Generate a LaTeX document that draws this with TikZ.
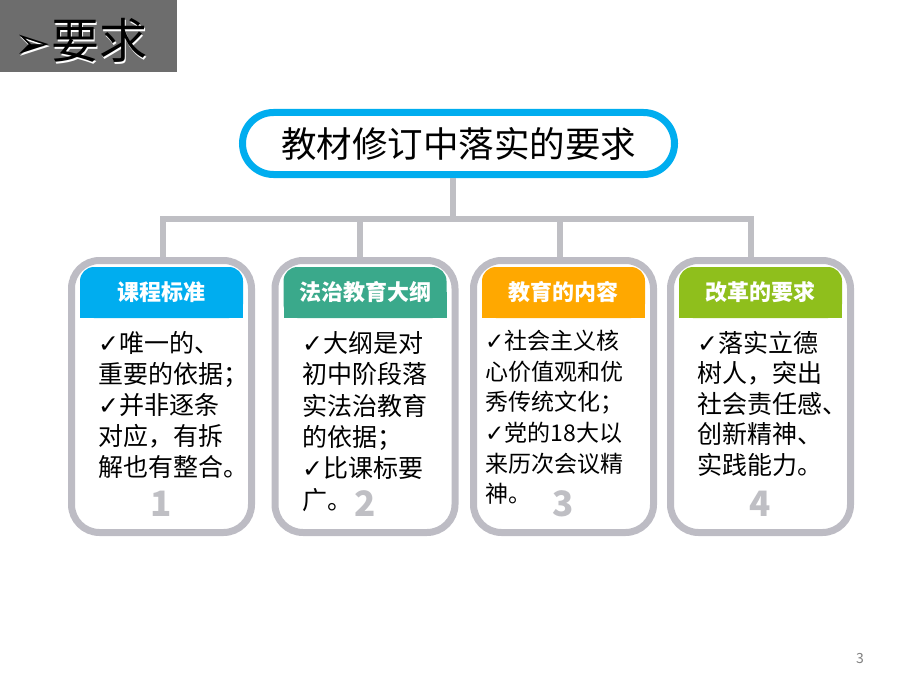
\documentclass[tikz,border=0pt]{standalone}
\usepackage{fontspec}
\setmainfont{Noto Sans CJK SC}
\newfontfamily\symfont{DejaVu Sans}
\definecolor{titlegray}{HTML}{6D6D6D}
\definecolor{topcyan}{HTML}{00ADEF}
\definecolor{cardgray}{HTML}{BDBCC4}
\definecolor{linkgray}{HTML}{BFBFC4}
\definecolor{headcyan}{HTML}{00ADEF}
\definecolor{headteal}{HTML}{3AA98B}
\definecolor{headorange}{HTML}{FFA800}
\definecolor{headgreen}{HTML}{8FBF1C}
\newcommand{\ck}{{\symfont\bfseries ✓}}

\begin{document}
\begin{tikzpicture}[x=1pt, y=-1pt,
  card/.style={draw=cardgray, line width=7pt, fill=white, rounded corners=28pt,
    minimum width=180pt, minimum height=272pt},
  head/.style={fill=#1, rounded corners=14pt, minimum width=163pt, minimum height=51pt,
    inner sep=0pt, text=white, font=\bfseries\fontsize{22}{22}\selectfont},
  body/.style={anchor=north west, inner sep=0pt, align=left, font=\fontsize{25}{31}\selectfont},
  num/.style={text=linkgray, font=\bfseries\fontsize{35}{35}\selectfont},
  link/.style={draw=linkgray, line width=5.5pt}]
  \useasboundingbox (0,0) rectangle (920,690);

  % title bar
  \node[fill=titlegray, anchor=north west, inner sep=0pt, minimum width=177pt, minimum height=72pt] (banner) at (0,0) {};
  \node[anchor=west, inner sep=0pt, text=white, font=\fontsize{48}{48}\selectfont] at (15.5,42) {{\symfont\fontsize{44}{44}\selectfont ➢}要求};
  \node[anchor=west, inner sep=0pt, font=\fontsize{48}{48}\selectfont] (title) at (14,40.5) {{\symfont\fontsize{44}{44}\selectfont ➢}要求};

  \node[draw=topcyan, line width=7pt, fill=white, rounded corners=31pt, minimum width=432pt, minimum height=62pt,
    font=\fontsize{35.5}{35.5}\selectfont] (goal) at (458.5,143.5) {教材修订中落实的要求};

  % connectors
  \coordinate (bar) at (453,219);
  \coordinate (j1) at (163,219);
  \coordinate (j2) at (360,219);
  \coordinate (j3) at (560,219);
  \coordinate (j4) at (751,219);
  \draw[link] (goal.south -| bar) -- (bar);
  \draw[link] (j1 |- 0,270) -- (j1) -- (j4) -- (j4 |- 0,270);
  \draw[link] (j2) -- (j2 |- 0,270);
  \draw[link] (j3) -- (j3 |- 0,270);

  \node[card] (c1) at (161.5,396.5) {};
  \node[card] (c2) at (365,396.5) {};
  \node[card] (c3) at (563.5,396.5) {};
  \node[card] (c4) at (760.5,396.5) {};

  % headers
  \fill[headcyan] (80,292) rectangle (243,318);
  \node[head=headcyan] (h1) at (161.5,292.5) {课程标准};
  \fill[headteal] (283.5,292) rectangle (446.5,318);
  \node[head=headteal] (h2) at (365,292.5) {法治教育大纲};
  \fill[headorange] (482,292) rectangle (645,318);
  \node[head=headorange] (h3) at (563.5,292.5) {教育的内容};
  \fill[headgreen] (679,292) rectangle (842,318);
  \node[head=headgreen] (h4) at (760.5,292.5) {改革的要求};

  \node[body] (t1) at (98,331) {\ck 唯一的、\\重要的依据；\\\ck 并非逐条\\对应，有拆\\解也有整合。};
  \node[body, font=\fontsize{25}{31.4}\selectfont] (t2) at (302,331) {\ck 大纲是对\\初中阶段落\\实法治教育\\的依据；\\\ck 比课标要\\广。};
  \node[body, font=\fontsize{23}{30.6}\selectfont] (t3) at (485,330) {\ck 社会主义核\\心价值观和优\\秀传统文化；\\\ck 党的18大以\\来历次会议精\\神。};
  \node[body, font=\fontsize{25}{30.5}\selectfont] (t4) at (697,331) {\ck 落实立德\\树人，突出\\社会责任感、\\创新精神、\\实践能力。};

  \node[num] (n1) at (161.5,504) {1};
  \node[num] (n2) at (365,504) {2};
  \node[num] (n3) at (563.5,504) {3};
  \node[num] (n4) at (760.5,504) {4};

  \node[text=gray, font=\fontsize{14}{14}\selectfont] (page) at (860,658) {3};
\end{tikzpicture}
\end{document}
